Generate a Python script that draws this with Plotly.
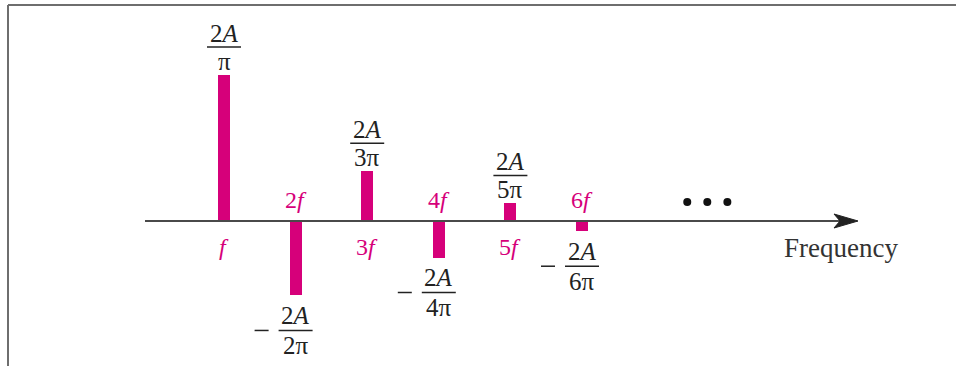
import plotly.graph_objects as go

# ---- data ----
harmonics = [1, 2, 3, 4, 5, 6]
harmonic_labels = ["<i>f</i>", "2<i>f</i>", "3<i>f</i>", "4<i>f</i>", "5<i>f</i>", "6<i>f</i>"]
amplitudes = [1.0, -0.51, 0.34, -0.25, 0.12, -0.07]
numerators = ["2<i>A</i>"] * 6
denominators = ["π", "2π", "3π", "4π", "5π", "6π"]
ellipsis_x = [7.47, 7.75, 8.03]
ellipsis_y = [0.13, 0.13, 0.13]
axis_title = "Frequency"

W, H = 956, 366
PINK = "#d6007a"
INK = "#222222"
SERIF = "Liberation Serif"

fig = go.Figure()
fig.add_trace(go.Bar(
    x=harmonics, y=amplitudes, base=0, width=0.168,
    marker=dict(color=PINK, line=dict(width=0)),
    hoverinfo="skip", showlegend=False,
))
fig.add_trace(go.Scatter(
    x=ellipsis_x, y=ellipsis_y, mode="markers",
    marker=dict(size=8, color="#111111"),
    hoverinfo="skip", showlegend=False,
))

annotations = []
shapes = []
for n, lab, a, num, den in zip(harmonics, harmonic_labels, amplitudes, numerators, denominators):
    pos = a > 0
    s = 1 if pos else -1
    annotations.append(dict(
        x=n, y=0, xref="x", yref="y", text=lab, showarrow=False,
        xanchor="center", yanchor="middle",
        yshift=-26 if pos else 21,
        font=dict(family=SERIF, size=24, color=PINK),
    ))
    if pos:
        off_num, off_line, off_den = 42, 28, 14
    else:
        off_num, off_line, off_den = 20, 35, 50
    annotations.append(dict(
        x=n, y=a, xref="x", yref="y", text=num, showarrow=False,
        xanchor="center", yanchor="middle",
        yshift=s * off_num, font=dict(family=SERIF, size=25, color=INK),
    ))
    annotations.append(dict(
        x=n, y=a, xref="x", yref="y", text=den, showarrow=False,
        xanchor="center", yanchor="middle",
        yshift=s * off_den, font=dict(family=SERIF, size=25, color=INK),
    ))
    shapes.append(dict(
        type="line", xref="x", yref="y", xsizemode="pixel", ysizemode="pixel",
        xanchor=n, yanchor=a, x0=-17, x1=17, y0=s * off_line, y1=s * off_line,
        line=dict(color=INK, width=1.5),
    ))
    if not pos:
        shapes.append(dict(
            type="line", xref="x", yref="y", xsizemode="pixel", ysizemode="pixel",
            xanchor=n, yanchor=a, x0=-41, x1=-27, y0=s * off_line, y1=s * off_line,
            line=dict(color=INK, width=1.5),
        ))

annotations.append(dict(
    x=841 / W, y=1 - 248 / H, xref="paper", yref="paper", text=axis_title,
    xanchor="center", yanchor="middle",
    showarrow=False, font=dict(family=SERIF, size=27, color="#333333"),
))

# horizontal axis with arrow
shapes.append(dict(type="line", xref="paper", yref="y", x0=145 / W, x1=845 / W,
                   y0=0, y1=0, line=dict(color="#4a4a4a", width=2)))
shapes.append(dict(type="path", xref="paper", yref="y", xsizemode="pixel", ysizemode="pixel",
                   xanchor=858 / W, yanchor=0,
                   path="M 0,0 L -24,7 L -18,0 L -24,-7 Z",
                   fillcolor="#222222", line=dict(color="#222222", width=1)))
# frame (top and left)
shapes.append(dict(type="line", xref="paper", yref="paper", x0=8 / W, x1=1,
                   y0=1 - 5 / H, y1=1 - 5 / H, line=dict(color="#6e6e6e", width=2)))
shapes.append(dict(type="line", xref="paper", yref="paper", x0=8 / W, x1=8 / W,
                   y0=0, y1=1 - 5 / H, line=dict(color="#6e6e6e", width=2)))

ux = 71.6
uy = 146.0
x0 = 1 - 224 / ux
y1 = 221 / uy
fig.update_layout(
    width=W, height=H,
    margin=dict(l=0, r=0, t=0, b=0),
    paper_bgcolor="white", plot_bgcolor="white",
    xaxis=dict(range=[x0, x0 + W / ux], visible=False, fixedrange=True),
    yaxis=dict(range=[y1 - H / uy, y1], visible=False, fixedrange=True),
    annotations=annotations, shapes=shapes,
    bargap=0,
)
fig.write_html(
    "out.html",
    config={"displayModeBar": False},
    post_script="document.body.style.margin='0';document.body.style.overflow='hidden';",
)
